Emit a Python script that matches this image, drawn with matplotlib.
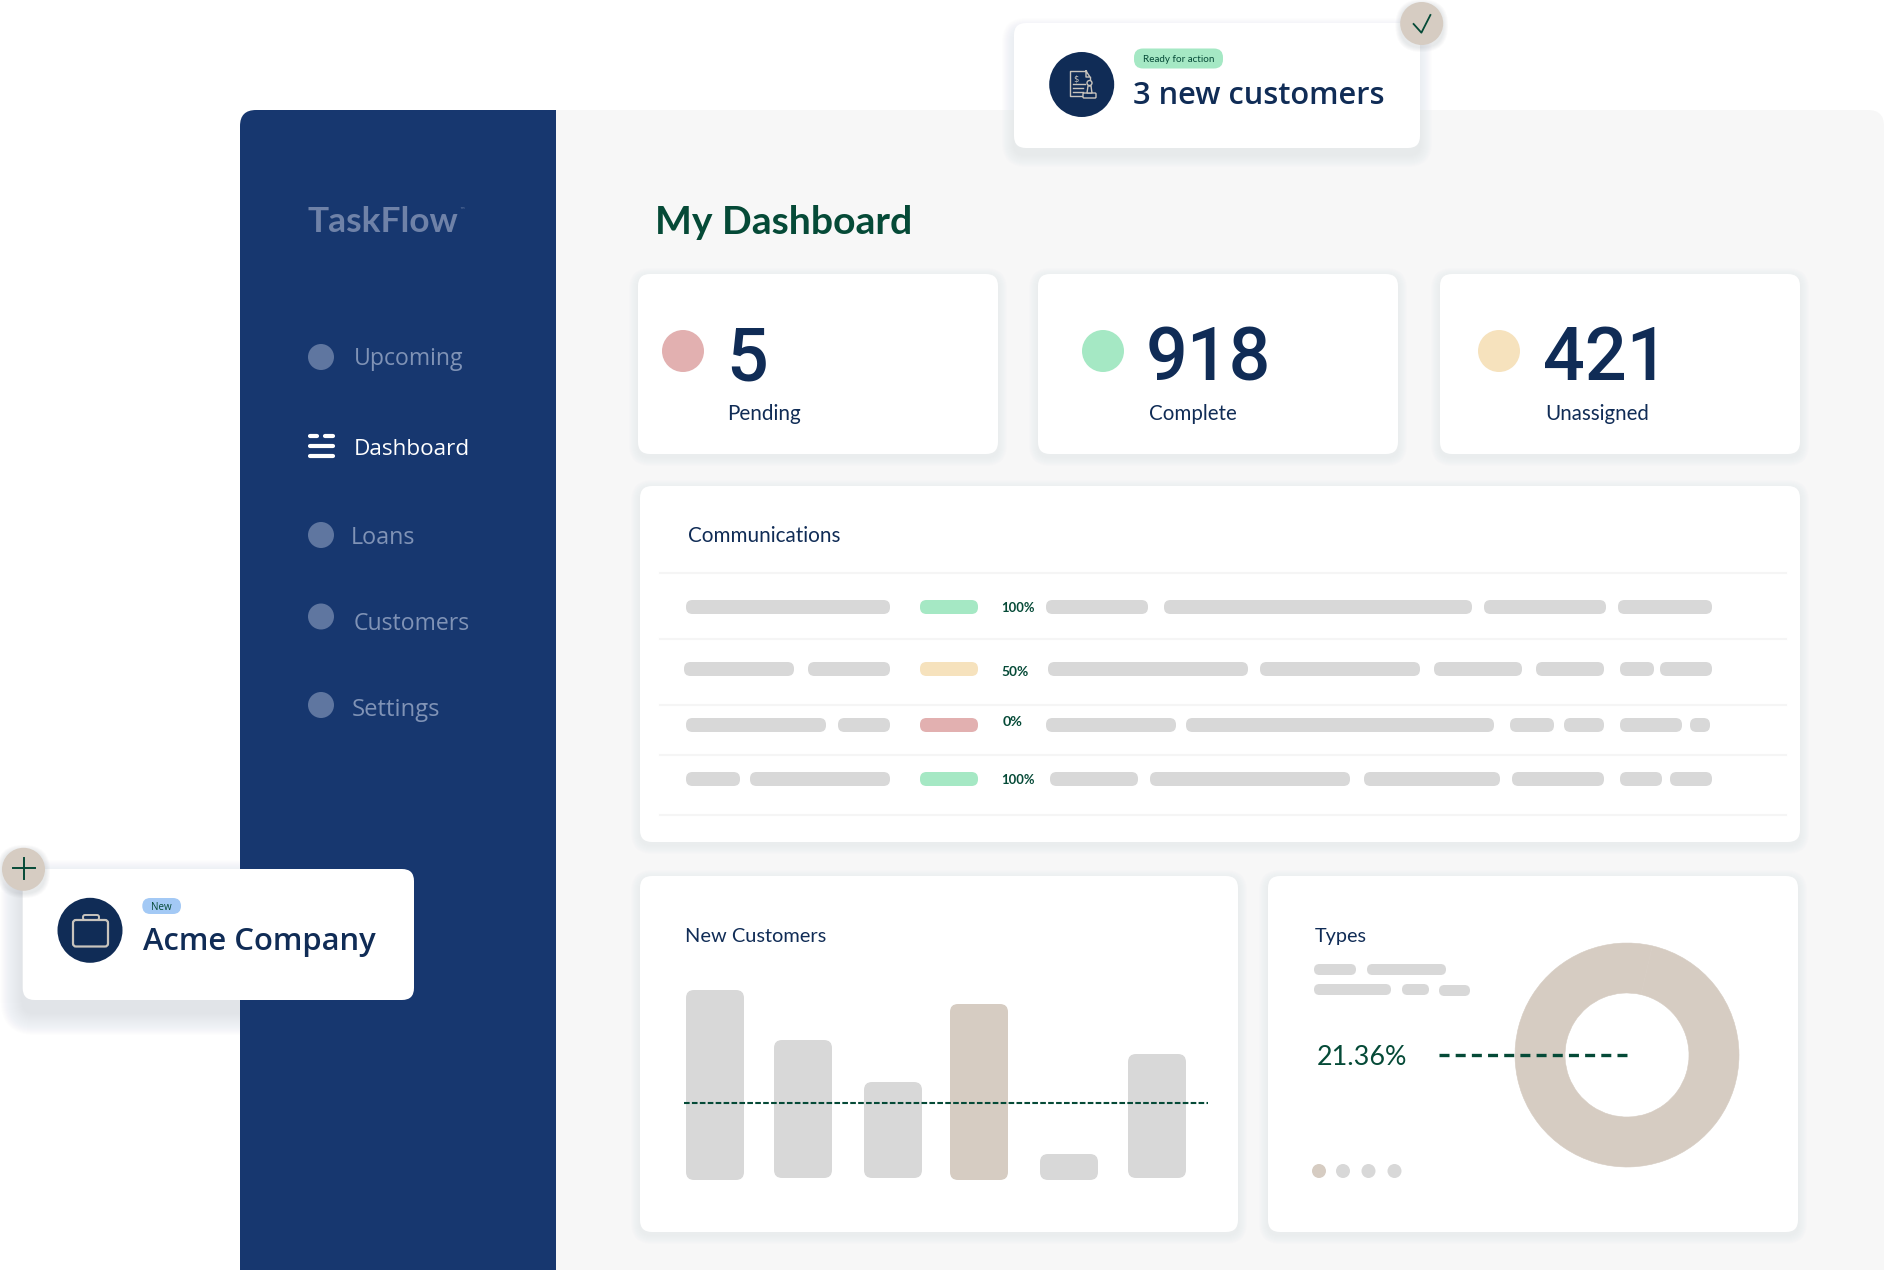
import matplotlib
matplotlib.use("Agg")
import matplotlib.pyplot as plt
from matplotlib.patches import FancyBboxPatch, Circle, Polygon
from matplotlib.textpath import TextPath
from matplotlib.font_manager import FontProperties

W, H = 1884, 1270
NAVY, SIDEBAR, GREEN = "#102c56", "#17376f", "#054a37"
TAN, GREY, LINE = "#d6ccc2", "#d8d8d8", "#f5f5f5"
MINT, SAND, ROSE, SKY = "#a5e8c4", "#f6e2bd", "#e2b0b0", "#a3c9f5"
NARROW, WIDE = "Lato", "Open Sans"

# ---- data ----
nav_items = ["Upcoming", "Dashboard", "Loans", "Customers", "Settings"]
kpi_values = ["5", "918", "421"]
kpi_labels = ["Pending", "Complete", "Unassigned"]
comm_percent = ["100%", "50%", "0%", "100%"]
bar_categories = ["a", "b", "c", "d", "e", "f"]
bar_values = [190, 138, 96, 176, 26, 124]
bar_base = [0, 2, 2, 0, 0, 2]
types_share = [21.36, 78.64]

fig = plt.figure(figsize=(W / 100, H / 100), dpi=100, facecolor="white")


def px_axes(x0, y0, x1, y1, z, xlim=None, ylim=None):
    a = fig.add_axes([x0 / W, 1 - y1 / H, (x1 - x0) / W, (y1 - y0) / H], zorder=z)
    a.set_xlim(*(xlim or (x0, x1)))
    a.set_ylim(*(ylim or (y1, y0)))
    a.axis("off")
    return a


ax = px_axes(0, 0, W, H, 1)
top = px_axes(0, 0, W, H, 5)


def box(a, x0, y0, x1, y1, r, color, z=2, alpha=1.0):
    a.add_patch(FancyBboxPatch((x0, y0), x1 - x0, y1 - y0,
                               boxstyle=f"round,pad=0,rounding_size={r}",
                               fc=color, ec="none", zorder=z, alpha=alpha))


def shadow(a, x0, y0, x1, y1, r, spread=14, dy=5, strength=0.006, z=2):
    for i in range(spread, 0, -1):
        box(a, x0 - i, y0 - i + dy, x1 + i, y1 + i + dy, r + i, "#70767f", z, strength)


def card(a, x0, y0, x1, y1, r=12, spread=9, dy=3, strength=0.007, z=2):
    shadow(a, x0, y0, x1, y1, r, spread, dy, strength, z)
    box(a, x0, y0, x1, y1, r, "white", z + 0.1)


def fit_text(a, s, x, y, width, color, family=NARROW, weight="normal", z=4):
    fp = FontProperties(family=family, weight=weight)
    ext = TextPath((0, 0), s, size=100, prop=fp).get_extents()
    scale = width / (ext.width / 100)          # font size in pixels
    return a.text(x + 1 - ext.x0 / 100 * scale, y, s, fontsize=scale * 0.72, color=color,
                  family=family, weight=weight, ha="left", va="baseline", zorder=z)


# ---- page ----
box(ax, 500, 110, W, 1320, 16, "#f7f7f7", 1)
box(ax, 240, 110, 700, 1320, 16, SIDEBAR, 1.2)
ax.add_patch(plt.Rectangle((556, 100), 200, 1200, fc="#f7f7f7", ec="none", zorder=1.3))
ax.add_patch(plt.Rectangle((556, 100), 200, 10, fc="white", ec="none", zorder=1.35))

fit_text(ax, "TaskFlow", 307, 232, 150, "#6f82a8", NARROW, "bold")
ax.text(459, 212, "™", fontsize=4, color="#6f82a8", zorder=4)
fit_text(ax, "My Dashboard", 657, 234, 252, GREEN, NARROW, "bold")

# ---- sidebar ----
nav_dot_y = [357, None, 535, 616.5, 705]
nav_text_x = [354.5, 354.5, 352, 354, 352]
nav_base_y = [365, 455, 544, 630, 716]
nav_text_w = [107, 112, 61, 114, 86]
for s, dy, tx, by, tw in zip(nav_items, nav_dot_y, nav_text_x, nav_base_y, nav_text_w):
    on = dy is None
    if not on:
        ax.add_patch(Circle((321, dy), 13, fc="#5f76a0", ec="none", zorder=3))
    fit_text(ax, s, tx, by, tw, "white" if on else "#8093b6", WIDE)
for seg in [(309.5, 317), (325, 332.5)]:
    ax.plot(seg, [436, 436], color="white", lw=3, solid_capstyle="round", zorder=3)
for yy in (446, 456):
    ax.plot([309.5, 332.5], [yy, yy], color="white", lw=3, solid_capstyle="round", zorder=3)

# ---- KPI cards ----
kpi_cards = [(638, 998), (1038, 1398), (1440, 1800)]
kpi_dot_x = [683, 1103, 1499]
kpi_dot_c = [ROSE, MINT, SAND]
kpi_num_x = [726, 1146, 1543]
kpi_lab_x = [(728, 71), (1148.7, 86), (1546, 101)]
for (x0, x1), dx, dc, nx, (lx, lw_), v, l in zip(kpi_cards, kpi_dot_x, kpi_dot_c,
                                                 kpi_num_x, kpi_lab_x, kpi_values, kpi_labels):
    card(ax, x0, 274, x1, 454)
    ax.add_patch(Circle((dx, 351), 21, fc=dc, ec="none", zorder=3))
    ax.text(nx, 380.5, v, fontsize=53, color=NAVY, family="Roboto", weight="medium",
            ha="left", va="baseline", zorder=4)
    fit_text(ax, l, lx, 420, lw_, NAVY, NARROW, "normal")

# ---- communications ----
card(ax, 640, 486, 1800, 842)
fit_text(ax, "Communications", 688, 542, 150, NAVY)
for yy in (573, 639, 705, 755, 815):
    ax.plot([660, 1786], [yy, yy], color=LINE, lw=1.5, zorder=3)

row_y = [(600, 614), (662, 676), (718, 732), (772, 786)]
row_status = [MINT, SAND, ROSE, MINT]
row_pct_base = [611.7, 675.7, 726, 784]
row_pct_w = [32, 26, 19, 32]
row_segments = [
    [(686, 890), (1046, 1148), (1164, 1472), (1484, 1606), (1618, 1712)],
    [(684, 794), (808, 890), (1048, 1248), (1260, 1420), (1434, 1522), (1536, 1604), (1620, 1654), (1660, 1712)],
    [(686, 826), (838, 890), (1046, 1176), (1186, 1494), (1510, 1554), (1564, 1604), (1620, 1682), (1690, 1710)],
    [(686, 740), (750, 890), (1050, 1138), (1150, 1350), (1364, 1500), (1512, 1604), (1620, 1662), (1670, 1712)],
]
for (y0, y1), c, pb, pw, pct, segs in zip(row_y, row_status, row_pct_base, row_pct_w, comm_percent, row_segments):
    for a0, a1 in segs:
        box(ax, a0, y0, a1, y1, 6.5, GREY, 3)
    box(ax, 920, y0, 978, y1, 6.5, c, 3)
    fit_text(ax, pct, 1001.5, pb, pw, GREEN, NARROW, "bold")

# ---- new customers ----
card(ax, 640, 876, 1238, 1232)
fit_text(ax, "New Customers", 686, 942, 139, NAVY)
bar_x = [715, 803, 893, 979, 1069, 1157]
bar_c = [GREY, GREY, GREY, TAN, GREY, GREY]
ax_bar = px_axes(680, 980, 1190, 1190, 3, xlim=(680, 1190), ylim=(-10, 200))
rects = ax_bar.bar(bar_x, bar_values, width=58, bottom=bar_base, color=bar_c, tick_label=None)
for rc in list(rects):
    x, y, w_, h_ = rc.get_x(), rc.get_y(), rc.get_width(), rc.get_height()
    fc = rc.get_facecolor()
    rc.set_visible(False)
    ax_bar.add_patch(FancyBboxPatch((x, y), w_, h_, boxstyle="round,pad=0,rounding_size=8",
                                    fc=fc, ec="none", zorder=3))
top.plot([684, 1208], [1103, 1103], color=GREEN, lw=1.5, dashes=(2.7, 1.1), zorder=6)

# ---- types ----
card(ax, 1268, 876, 1798, 1232)
fit_text(ax, "Types", 1314, 942, 51, NAVY)
for a0, a1, y0 in [(1314, 1356, 964), (1367, 1446, 964), (1314, 1391, 984), (1402, 1429, 984), (1439, 1470, 985)]:
    box(ax, a0, y0, a1, y0 + 11, 5.5, GREY, 3)
fit_text(ax, "21.36%", 1317, 1065, 88, GREEN, NARROW)
for dx, dc in zip((1319, 1343, 1368.5, 1394.5), (TAN, GREY, GREY, GREY)):
    ax.add_patch(Circle((dx, 1171), 7, fc=dc, ec="none", zorder=3))
ax_d = px_axes(1515, 943, 1739, 1167, 3, xlim=(-1, 1), ylim=(-1, 1))
ax_d.pie(types_share, colors=[TAN, TAN], radius=1,
         wedgeprops=dict(width=50 / 112, edgecolor=TAN, linewidth=0.4))
ax_d.set_xlim(-1, 1)
ax_d.set_ylim(-1, 1)
top.plot([1439, 1627], [1054.7, 1054.7], color=GREEN, lw=2.4, dashes=(3.0, 1.854), zorder=6)

# ---- floating card: new customers ----
card(top, 1014, 23, 1420, 148, r=12, spread=12, dy=7, strength=0.008, z=7)
top.add_patch(Circle((1081.7, 84.5), 32.5, fc=NAVY, ec="none", zorder=8))
ICON = "#c8c4bd"
top.plot([1086, 1070, 1070, 1090, 1090], [71, 71, 96, 96, 77], color=ICON, lw=1, zorder=9)
top.plot([1086, 1086, 1090, 1086], [71, 77, 77, 71], color=ICON, lw=1, zorder=9)
for yy, xe in [(84, 1085), (88, 1083), (92, 1083)]:
    top.plot([1073, xe], [yy, yy], color=ICON, lw=1, zorder=9)
top.text(1076, 79, "$", fontsize=6, color=ICON, ha="center", va="center", zorder=9)
top.add_patch(FancyBboxPatch((1083, 93), 13, 5, boxstyle="round,pad=0,rounding_size=1",
                             fc=NAVY, ec=ICON, lw=1, zorder=10))
top.add_patch(Polygon([(1087, 93), (1092, 93), (1091, 86), (1088, 86)], closed=True, fc=NAVY, ec=ICON, lw=1, zorder=10))
top.add_patch(Circle((1089.5, 83), 2.5, fc=NAVY, ec=ICON, lw=1, zorder=10))
box(top, 1134, 48.5, 1223, 68.5, 9, MINT, 8)
fit_text(top, "Ready for action", 1142.5, 62.3, 70, GREEN, NARROW, "normal", z=9)
fit_text(top, "3 new customers", 1133.5, 103.7, 250, NAVY, WIDE, "semibold", z=9)
shadow(top, 1400.5, 2.5, 1443, 45, 21, 5, 2, 0.03, z=9)
top.add_patch(Circle((1421.7, 23.5), 21.5, fc=TAN, ec="none", zorder=9.5))
top.plot([1413.6, 1421.4, 1430.4], [24, 32.7, 15], color=GREEN, lw=1.3, zorder=10)

# ---- floating card: acme ----
card(top, 22.7, 869, 414, 1000, r=12, spread=22, dy=13, strength=0.0085, z=7)
top.add_patch(Circle((90, 930.3), 32.5, fc=NAVY, ec="none", zorder=8))
top.add_patch(FancyBboxPatch((73, 920), 35, 26.5, boxstyle="round,pad=0,rounding_size=3",
                             fc="none", ec=ICON, lw=1.6, zorder=9))
top.add_patch(FancyBboxPatch((83, 915), 16, 5, boxstyle="round,pad=0,rounding_size=2",
                             fc="none", ec=ICON, lw=1.4, zorder=9))
box(top, 142.3, 898, 181, 914, 8, SKY, 8)
fit_text(top, "New", 151, 910, 19.5, GREEN, WIDE, z=9)
fit_text(top, "Acme Company", 141.7, 950, 233, NAVY, WIDE, "semibold", z=9)
shadow(top, 2, 848, 45, 891, 21, 5, 2, 0.03, z=9)
top.add_patch(Circle((23.5, 869.3), 21.5, fc=TAN, ec="none", zorder=9.5))
top.plot([13.3, 35], [868.3, 868.3], color=GREEN, lw=1.4, zorder=10)
top.plot([24, 24], [857.7, 879], color=GREEN, lw=1.4, zorder=10)

fig.savefig("out.png", dpi=100, facecolor="white")
